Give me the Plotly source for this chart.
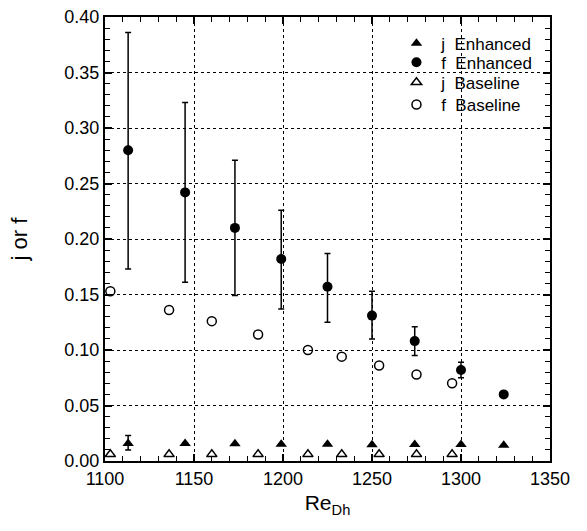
import plotly.graph_objects as go

# ---- data ----
re_enh = [1113, 1145, 1173, 1199, 1225, 1250, 1274, 1300, 1324]
j_enh = [0.0158, 0.0158, 0.0156, 0.0150, 0.0152, 0.0146, 0.0148, 0.0148, 0.0142]
j_enh_up = [0.023, None, None, None, None, None, None, None, None]
j_enh_lo = [0.0100, None, None, None, None, None, None, None, None]
f_enh = [0.280, 0.242, 0.210, 0.182, 0.157, 0.131, 0.108, 0.082, 0.060]
f_enh_up = [0.386, 0.323, 0.271, 0.226, 0.187, 0.153, 0.121, 0.089, None]
f_enh_lo = [0.173, 0.161, 0.149, 0.137, 0.125, 0.110, 0.095, 0.075, None]

re_base = [1103, 1136, 1160, 1186, 1214, 1233, 1254, 1275, 1295]
j_base = [0.006, 0.006, 0.006, 0.006, 0.006, 0.006, 0.006, 0.006, 0.006]
f_base = [0.153, 0.136, 0.126, 0.114, 0.100, 0.094, 0.086, 0.078, 0.070]

x_ticks = [1100, 1150, 1200, 1250, 1300, 1350]
y_ticks = [0.00, 0.05, 0.10, 0.15, 0.20, 0.25, 0.30, 0.35, 0.40]

legend_names = ["&nbsp;j&nbsp;&nbsp;Enhanced", "&nbsp;f&nbsp;&nbsp;Enhanced",
                "&nbsp;j&nbsp;&nbsp;Baseline", "&nbsp;f&nbsp;&nbsp;Baseline"]


def err(vals, up, lo):
    plus = [None if u is None else u - v for v, u in zip(vals, up)]
    minus = [None if l is None else v - l for v, l in zip(vals, lo)]
    return plus, minus


FONT = "Liberation Sans, Arial, Helvetica, sans-serif"

fig = go.Figure()

jp, jm = err(j_enh, j_enh_up, j_enh_lo)
fig.add_trace(go.Scatter(
    x=re_enh, y=j_enh, mode="markers", name=legend_names[0], legend="legend",
    marker=dict(symbol="triangle-up", size=10, color="black"),
    error_y=dict(type="data", array=jp, arrayminus=jm, color="black",
                 thickness=1.5, width=3),
))
fp, fm = err(f_enh, f_enh_up, f_enh_lo)
fig.add_trace(go.Scatter(
    x=re_enh, y=f_enh, mode="markers", name=legend_names[1], legend="legend2",
    marker=dict(symbol="circle", size=10, color="black"),
    error_y=dict(type="data", array=fp, arrayminus=fm, color="black",
                 thickness=1.5, width=3),
))
fig.add_trace(go.Scatter(
    x=re_base, y=j_base, mode="markers", name=legend_names[2], legend="legend3",
    marker=dict(symbol="triangle-up-open", size=9, color="black",
                line=dict(width=1.5, color="black")),
))
fig.add_trace(go.Scatter(
    x=re_base, y=f_base, mode="markers", name=legend_names[3], legend="legend4",
    marker=dict(symbol="circle-open", size=9, color="black",
                line=dict(width=1.5, color="black")),
))

axis_common = dict(
    showline=True, linecolor="black", linewidth=2, mirror="allticks",
    ticks="inside", ticklen=7, tickwidth=1.5, tickcolor="black",
    showgrid=True, gridcolor="black", gridwidth=1, griddash="dot",
    zeroline=False, automargin=False,
    tickfont=dict(family=FONT, size=18, color="black"),
)

fig.update_xaxes(
    range=[1100, 1350], tickvals=x_ticks, ticktext=[str(v) for v in x_ticks],
    minor=dict(dtick=10, ticks="inside", ticklen=5, tickwidth=1.2,
               tickcolor="black", showgrid=False),
    title=dict(text="Re<sub>Dh</sub>", font=dict(family=FONT, size=21, color="black"),
               standoff=8),
    **axis_common,
)
fig.update_yaxes(
    range=[0, 0.40], tickvals=y_ticks, ticktext=[f"{v:.2f}" for v in y_ticks],
    minor=dict(dtick=0.01, ticks="inside", ticklen=5, tickwidth=1.2,
               tickcolor="black", showgrid=False),
    title=dict(text="j or f", font=dict(family=FONT, size=22, color="black"),
               standoff=31),
    **axis_common,
)

# white backdrop behind the legend (covers grid lines, sits under the markers)
fig.add_shape(type="rect", xref="paper", yref="paper",
              x0=0.68, x1=0.995, y0=0.76, y1=0.995,
              fillcolor="white", line=dict(width=0), layer="between")

leg_common = dict(xanchor="left", yanchor="middle", bgcolor="rgba(0,0,0,0)",
                  borderwidth=0, font=dict(family=FONT, size=17, color="black"),
                  itemsizing="trace")
leg_x = 0.655
leg_rows = [0.940, 0.897, 0.852, 0.802]

fig.update_layout(
    width=587, height=531,
    margin=dict(l=105, r=37, t=17, b=70),
    paper_bgcolor="white", plot_bgcolor="white",
    showlegend=True,
    legend=dict(x=leg_x, y=leg_rows[0], **leg_common),
    legend2=dict(x=leg_x, y=leg_rows[1], **leg_common),
    legend3=dict(x=leg_x, y=leg_rows[2], **leg_common),
    legend4=dict(x=leg_x, y=leg_rows[3], **leg_common),
)

fig.write_html("out.html", config={"displayModeBar": False},
               post_script="document.body.style.margin='0px';")
